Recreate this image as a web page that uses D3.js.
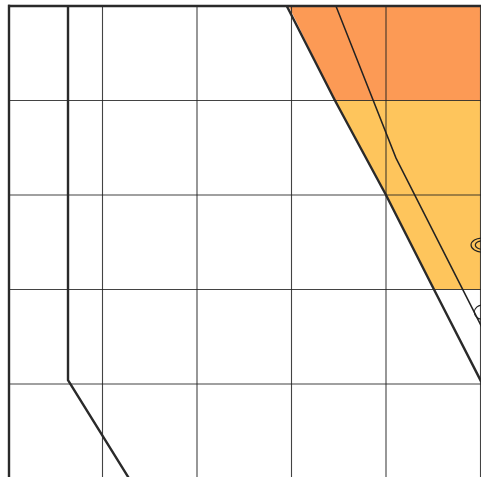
<!DOCTYPE html>
<html><head><meta charset="utf-8">
<script src="https://cdn.jsdelivr.net/npm/d3@7"></script>
<style>html,body{margin:0;padding:0;background:#fff;overflow:hidden}svg{display:block}</style>
</head><body><script>
const gridX = [1, 2, 3, 4, 5];
const gridY = [1, 2, 3, 4];
const orangeBandX = [2.97, 5, 5, 3.46];
const orangeBandY = [0, 0, 1, 1];
const yellowBandX = [3.46, 5, 5, 4.508, 4];
const yellowBandY = [1, 1, 3, 3, 2];
const boundaryAX = [0.635, 0.635, 1.3];
const boundaryAY = [0, 3.96, 5.03];
const boundaryBX = [2.95, 3.46, 4, 4.508, 5.01];
const boundaryBY = [0, 1, 2, 3, 3.98];
const thinX = [3.47, 4.106, 5.01];
const thinY = [0, 1.61, 3.39];
const contourCx = [5.02, 5.02, 5.02];
const contourCy = [2.53, 2.53, 3.24];
const contourRx = [0.12, 0.075, 0.085];
const contourRy = [0.075, 0.045, 0.075];

const W = 481, H = 477;
const x = d3.scaleLinear().domain([0, 5]).range([8, 480.5]);
const y = d3.scaleLinear().domain([0, 5]).range([6, 478.5]);
const svg = d3.select("body").append("svg").attr("width", W).attr("height", H);
const line = d3.line().x(d => x(d[0])).y(d => y(d[1]));
const zip = (a, b) => a.map((v, i) => [v, b[i]]);

svg.append("path").attr("d", line(zip(orangeBandX, orangeBandY)) + "Z").attr("fill", "#fc9a55");
svg.append("path").attr("d", line(zip(yellowBandX, yellowBandY)) + "Z").attr("fill", "#fec55c");

svg.selectAll(".gx").data(gridX).join("line").attr("x1", d => x(d)).attr("x2", d => x(d))
  .attr("y1", y(0)).attr("y2", H).attr("stroke", "#222").attr("stroke-opacity", 0.85).attr("stroke-width", 1.1);
svg.selectAll(".gy").data(gridY).join("line").attr("y1", d => y(d)).attr("y2", d => y(d))
  .attr("x1", x(0)).attr("x2", W).attr("stroke", "#222").attr("stroke-opacity", 0.85).attr("stroke-width", 1.1);

svg.selectAll(".c").data(contourCx).join("ellipse")
  .attr("cx", d => x(d)).attr("cy", (d, i) => y(contourCy[i]))
  .attr("rx", (d, i) => x(contourRx[i]) - x(0)).attr("ry", (d, i) => y(contourRy[i]) - y(0))
  .attr("fill", "none").attr("stroke", "#222").attr("stroke-width", 1.2);

svg.append("path").attr("d", line(zip(thinX, thinY))).attr("fill", "none").attr("stroke", "#222").attr("stroke-width", 1.5);
svg.append("path").attr("d", line(zip(boundaryAX, boundaryAY))).attr("fill", "none").attr("stroke", "#2a2a2a").attr("stroke-width", 2.4);
svg.append("path").attr("d", line(zip(boundaryBX, boundaryBY))).attr("fill", "none").attr("stroke", "#2a2a2a").attr("stroke-width", 2.4);

svg.append("line").attr("x1", x(0) + 1).attr("x2", x(0) + 1).attr("y1", y(0) - 1.2).attr("y2", H).attr("stroke", "#2a2a2a").attr("stroke-width", 2.4);
svg.append("line").attr("x1", x(0)).attr("x2", W).attr("y1", y(0)).attr("y2", y(0)).attr("stroke", "#2a2a2a").attr("stroke-width", 2.4);
</script></body></html>
